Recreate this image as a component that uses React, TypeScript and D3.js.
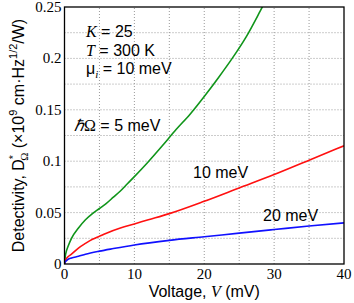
import React from "react";
import * as d3 from "d3";

const W = 354;
const H = 303;
const margin = { left: 64.5, right: 10, top: 7, bottom: 39 };

const xTicks = [0, 10, 20, 30, 40];
const yTicks = [0, 0.05, 0.1, 0.15, 0.2, 0.25];
const yTickLabels = ["0", "0.05", "0.1", "0.15", "0.2", "0.25"];
const xGrid = [5, 10, 15, 20, 25, 30, 35];
const yGrid = [0.025, 0.05, 0.075, 0.1, 0.125, 0.15, 0.175, 0.2, 0.225];

// hbar*Omega = 5 meV (green)
const vGreen = [0, 0.1, 0.25, 0.5, 1, 2, 3, 4, 5, 6, 7, 8, 9, 10, 12, 14, 16, 18, 20, 22, 24, 26, 28, 29];
const dGreen = [0, 0.007, 0.012, 0.017, 0.025, 0.035, 0.043, 0.049, 0.054, 0.059, 0.065, 0.071, 0.078, 0.085, 0.0995, 0.115, 0.131, 0.146, 0.163, 0.181, 0.2, 0.221, 0.246, 0.259];
// 10 meV (red)
const vRed = [0, 0.1, 0.25, 0.5, 1, 2, 3, 4, 5, 6, 8, 10, 12, 15, 20, 25, 30, 35, 40];
const dRed = [0, 0.003, 0.005, 0.007, 0.0095, 0.0155, 0.02, 0.024, 0.027, 0.03, 0.035, 0.039, 0.043, 0.049, 0.061, 0.074, 0.087, 0.101, 0.115];
// 20 meV (blue)
const vBlue = [0, 0.1, 0.25, 0.5, 1, 2, 3, 5, 7, 10, 15, 20, 25, 30, 35, 40];
const dBlue = [0, 0.002, 0.003, 0.0045, 0.0058, 0.0075, 0.0095, 0.0125, 0.015, 0.0185, 0.023, 0.0265, 0.03, 0.0335, 0.037, 0.04];

const series = [
  { v: vGreen, d: dGreen, color: "#10951a" },
  { v: vRed, d: dRed, color: "#ff1010" },
  { v: vBlue, d: dBlue, color: "#1010ff" },
];

const SERIF = "'Liberation Serif', 'Times New Roman', serif";
const SANS = "'Liberation Sans', Arial, Helvetica, sans-serif";

export default function App() {
  const x = d3.scaleLinear().domain([0, 40]).range([margin.left, W - margin.right]);
  const y = d3.scaleLinear().domain([0, 0.25]).range([H - margin.bottom, margin.top]);
  const line = d3
    .line<[number, number]>()
    .x((p) => x(p[0]))
    .y((p) => y(p[1]))
    .curve(d3.curveMonotoneX);

  const x0 = x(0), x1 = x(40), y0 = y(0), y1 = y(0.25);

  return (
    <svg width={W} height={H} style={{ position: "absolute", left: 0, top: 0, background: "#fff" }}>
      <defs>
        <clipPath id="plot">
          <rect x={x0} y={y1} width={x1 - x0} height={y0 - y1} />
        </clipPath>
      </defs>
      {/* grid */}
      {xGrid.map((g) => (
        <line key={"xg" + g} x1={x(g)} x2={x(g)} y1={y0} y2={y1} stroke="#999" strokeWidth={1} strokeDasharray="1,2" />
      ))}
      {yGrid.map((g) => (
        <line key={"yg" + g} x1={x0} x2={x1} y1={y(g)} y2={y(g)} stroke="#999" strokeWidth={1} strokeDasharray="1,2" />
      ))}
      {/* curves */}
      <g clipPath="url(#plot)">
        {series.map((s, i) => (
          <path
            key={i}
            d={line(s.v.map((v, k) => [v, s.d[k]] as [number, number])) || ""}
            fill="none"
            stroke={s.color}
            strokeWidth={1.6}
          />
        ))}
      </g>
      {/* frame */}
      <rect x={x0} y={y1} width={x1 - x0} height={y0 - y1} fill="none" stroke="#000" strokeWidth={1.3} />
      {/* y ticks */}
      {yTicks.map((t, i) => (
        <text key={"yt" + t} x={x0 - 3} y={y(t) + 5} textAnchor="end" fontFamily={SERIF} fontSize={15}>
          {yTickLabels[i]}
        </text>
      ))}
      {/* x ticks */}
      {xTicks.map((t) => (
        <text key={"xt" + t} x={x(t)} y={y0 + 15} textAnchor="middle" fontFamily={SERIF} fontSize={15}>
          {t}
        </text>
      ))}
      {/* x label */}
      <text x={(x0 + x1) / 2} y={297} textAnchor="middle" fontFamily={SANS} fontSize={16}>
        Voltage,{" "}
        <tspan fontFamily={SERIF} fontStyle="italic">V</tspan> (mV)
      </text>
      {/* y label */}
      <text transform="rotate(-90)" x={-(y0 + y1) / 2} y={24} textAnchor="middle" fontFamily={SANS} fontSize={16}>
        Detectivity, D
        <tspan fontSize={11} dy={-7}>*</tspan>
        <tspan fontSize={11} dx={-6} dy={11} fontFamily={SERIF}>Ω</tspan>
        <tspan dy={-4}> (×10</tspan>
        <tspan fontSize={11} dy={-7}>9</tspan>
        <tspan dy={7}> cm·Hz</tspan>
        <tspan fontSize={11} dy={-7}>1/2</tspan>
        <tspan dy={7}>/W)</tspan>
      </text>
      {/* annotations */}
      <text x={86} y={37} fontFamily={SANS} fontSize={16}>
        <tspan fontFamily={SERIF} fontStyle="italic">K</tspan> = 25
      </text>
      <text x={86} y={56} fontFamily={SANS} fontSize={16}>
        <tspan fontFamily={SERIF} fontStyle="italic">T</tspan> = 300 K
      </text>
      <text x={86} y={74} fontFamily={SANS} fontSize={16}>
        μ<tspan fontSize={11} dy={4} fontFamily={SERIF} fontStyle="italic">i</tspan>
        <tspan dy={-4}> = 10 meV</tspan>
      </text>
      <text x={74} y={131} fontFamily={SANS} fontSize={16}>
        <tspan fontFamily={SERIF} fontStyle="italic">ℏ</tspan>
        <tspan fontFamily={SERIF}>Ω</tspan> = 5 meV
      </text>
      <text x={193} y={178} fontFamily={SANS} fontSize={16}>
        10 meV
      </text>
      <text x={263} y={221} fontFamily={SANS} fontSize={16}>
        20 meV
      </text>
    </svg>
  );
}
